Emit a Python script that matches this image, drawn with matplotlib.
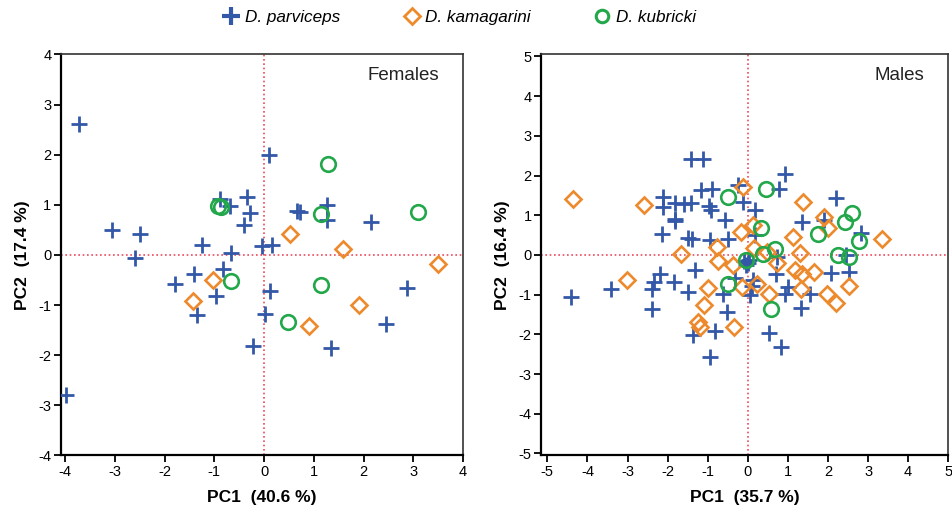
import numpy as np
import matplotlib
matplotlib.use("Agg")
import matplotlib.pyplot as plt
from matplotlib.lines import Line2D

plt.rcParams['font.family'] = ['Liberation Sans', 'DejaVu Sans']
plt.rcParams['axes.unicode_minus'] = False

BLUE = '#3358a8'
ORANGE = '#ec8a2c'
GREEN = '#22a74a'
RED = '#ec4a5e'

species = ['D. parviceps', 'D. kamagarini', 'D. kubricki']

# ---- Females (PC1, PC2)
fem_parv_x = [-3.72, -3.05, -2.50, -2.60, -1.24, -0.89, -0.68, -0.35, -0.28, -0.41, -0.66,
              -0.05, 0.15, 0.10, -1.40, -0.83, -1.78, -0.97, -1.34, -0.22, -3.97, 0.11,
              0.01, 1.35, 2.44, 2.87, 0.66, 0.72, 1.26, 1.26, 2.15]
fem_parv_y = [2.62, 0.49, 0.41, -0.07, 0.20, 1.12, 0.98, 1.16, 0.83, 0.59, 0.03,
              0.18, 0.20, 2.00, -0.38, -0.28, -0.57, -0.81, -1.19, -1.82, -2.80, -0.71,
              -1.18, -1.86, -1.37, -0.66, 0.87, 0.85, 1.00, 0.70, 0.66]
fem_kama_x = [-1.03, -1.43, 0.53, 1.58, 3.50, 1.90, 0.90]
fem_kama_y = [-0.49, -0.91, 0.41, 0.12, -0.18, -1.00, -1.42]
fem_kubr_x = [-0.92, -0.87, -0.67, 1.28, 1.15, 3.09, 1.15, 0.48]
fem_kubr_y = [0.97, 0.95, -0.52, 1.82, 0.81, 0.86, -0.60, -1.34]

# ---- Males (PC1, PC2)
male_parv_x = [-4.42, -3.42, -2.39, -2.20, -2.33, -2.38, -1.85, -1.50, -1.32, -1.37,
               -0.82, -0.94, -0.53, -0.62, -0.33, 0.12, 0.10, 0.05, 0.72, 0.71,
               1.00, 0.92, 1.56, 1.32, 0.53, 0.84, 2.08, 2.53, 2.45,
               -2.14, -1.81, -1.48, -1.38, -0.94, -0.50, 0.17, -0.57,
               -1.17, -0.88, -1.81, -1.60, -1.42, -2.12, -2.12, -1.81,
               -1.41, -1.12, -0.96, -0.92, -0.24, -0.12, 0.17, 0.92, 0.77,
               2.20, 1.35, 1.91, 2.82, -0.10, 0.00, -0.05, 0.03]
male_parv_y = [-1.07, -0.86, -1.36, -0.49, -0.68, -0.85, -0.67, -0.92, -0.37, -2.02,
               -1.91, -2.56, -1.43, -0.98, -0.58, -0.63, -0.78, -1.01, -0.04, -0.47,
               -0.80, -0.98, -0.98, -1.33, -1.96, -2.33, -0.46, -0.42, 0.00,
               0.54, 0.86, 0.44, 0.40, 0.38, 0.40, 0.50, 0.88,
               1.64, 1.65, 1.32, 1.28, 1.30, 1.47, 1.20, 0.90,
               2.41, 2.41, 1.23, 1.13, 1.76, 1.34, 1.13, 2.05, 1.65,
               1.44, 0.84, 0.88, 0.55, -0.15, -0.20, -0.25, -0.12]
male_kama_x = [-4.35, -2.60, -3.01, -1.67, -0.76, -0.74, -0.38, -0.16, -0.13, 1.38,
               1.91, 1.99, 1.12, 3.36, 0.13, 0.15, 0.48, 1.31, 0.73, 1.17,
               1.35, 1.66, -0.14, 0.22, 0.52, 1.33, 1.97, 2.20, 2.53, -0.99,
               -1.08, -1.25, -1.19, -0.34]
male_kama_y = [1.40, 1.26, -0.63, 0.03, 0.19, -0.14, -0.24, 0.59, 1.71, 1.34,
               0.95, 0.67, 0.45, 0.40, 0.76, 0.18, 0.08, 0.05, -0.21, -0.38,
               -0.48, -0.43, -0.80, -0.73, -0.99, -0.85, -0.99, -1.20, -0.77, -0.84,
               -1.26, -1.70, -1.81, -1.82]
male_kubr_x = [-0.49, 0.45, 0.33, 1.74, 2.43, 2.60, 2.78, 2.24, 2.53, 0.67,
               0.38, -0.49, 0.59, -0.05]
male_kubr_y = [1.47, 1.65, 0.68, 0.53, 0.84, 1.07, 0.34, 0.01, -0.04, 0.14,
               0.03, -0.74, -1.35, -0.12]

fig = plt.figure(figsize=(9.53, 5.18), dpi=100)
ax1 = fig.add_axes([0.064, 0.1207, 0.422, 0.7741])
ax2 = fig.add_axes([0.568, 0.1207, 0.427, 0.7741])

plus_kw = dict(marker='+', color=BLUE, markersize=12, markeredgewidth=2.0, linestyle='none')
dia_kw = dict(marker='D', markerfacecolor='none', markeredgecolor=ORANGE, markersize=8,
              markeredgewidth=1.9, linestyle='none')
circ_kw = dict(marker='o', markerfacecolor='none', markeredgecolor=GREEN, markersize=10.5,
               markeredgewidth=1.9, linestyle='none')


def draw_panel(ax, px, py, kx, ky, cx, cy, lim, label, xlabel, ylabel):
    ax.axhline(0, color=RED, linestyle=(0, (1, 1.6)), linewidth=1.2, zorder=1)
    ax.axvline(0, color=RED, linestyle=(0, (1, 1.6)), linewidth=1.2, zorder=1)
    ax.plot(px, py, zorder=3, **plus_kw)
    ax.plot(kx, ky, zorder=4, **dia_kw)
    ax.plot(cx, cy, zorder=5, **circ_kw)
    ax.set_xticks(range(-lim, lim + 1))
    ax.set_yticks(range(-lim, lim + 1))
    ax.tick_params(direction='out', length=5, width=1.3, labelsize=10.5, pad=2)
    for s in ['left', 'bottom']:
        ax.spines[s].set_linewidth(1.6)
        ax.spines[s].set_color('black')
    for s in ['top', 'right']:
        ax.spines[s].set_linewidth(1.2)
        ax.spines[s].set_color('#333333')
    ax.set_xlabel(xlabel, fontsize=12.5, fontweight='bold', labelpad=8)
    ax.set_ylabel(ylabel, fontsize=12.5, fontweight='bold', labelpad=6)
    ax.text(0.94, 0.97, label, transform=ax.transAxes, ha='right', va='top', fontsize=13.5,
            color='#222222')


draw_panel(ax1, fem_parv_x, fem_parv_y, fem_kama_x, fem_kama_y, fem_kubr_x, fem_kubr_y,
           4, 'Females', 'PC1  (40.6 %)', 'PC2  (17.4 %)')
ax1.set_xlim(-4.08, 4.0)
ax1.set_ylim(-4.0, 4.0)

draw_panel(ax2, male_parv_x, male_parv_y, male_kama_x, male_kama_y, male_kubr_x, male_kubr_y,
           5, 'Males', 'PC1  (35.7 %)', 'PC2  (16.4 %)')
ax2.set_xlim(-5.15, 5.0)
ax2.set_ylim(-5.05, 5.05)

handles = [Line2D([], [], marker='+', color=BLUE, markersize=13, markeredgewidth=3, linestyle='none'),
           Line2D([], [], marker='D', markerfacecolor='none', markeredgecolor=ORANGE, markersize=8,
                  markeredgewidth=2, linestyle='none'),
           Line2D([], [], marker='o', markerfacecolor='none', markeredgecolor=GREEN, markersize=9,
                  markeredgewidth=2.2, linestyle='none')]
fig.legend(handles, species, loc='upper center', bbox_to_anchor=(0.481, 1.01), ncol=3,
           frameon=False, prop={'style': 'italic', 'size': 12.3}, columnspacing=3.6,
           handletextpad=0.2, handlelength=1.2)

fig.savefig('out.png', dpi=100)
